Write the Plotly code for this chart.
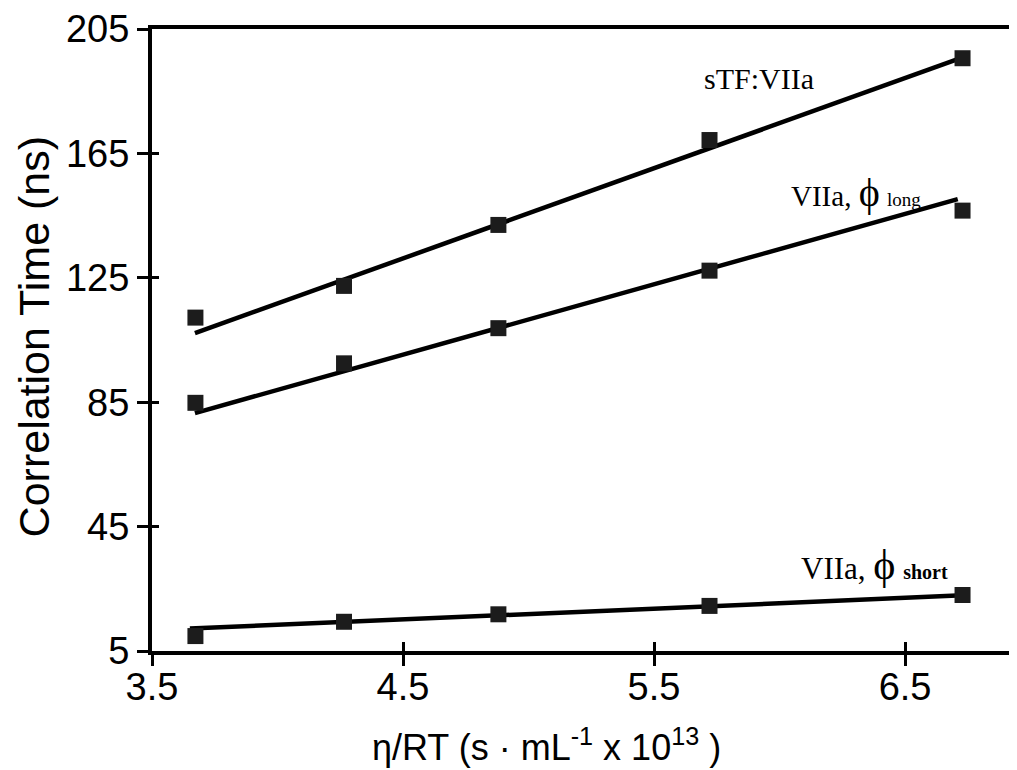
import plotly.graph_objects as go

# ---- data ----
x_vals = [3.673, 4.265, 4.880, 5.721, 6.729]
stf_vals = [112.2, 122.4, 142.0, 169.3, 195.6]
long_vals = [84.8, 97.5, 108.8, 127.3, 146.6]
short_vals = [9.8, 14.4, 16.8, 19.5, 23.0]

stf_fit_x = [3.671, 6.71]
stf_fit_y = [107.2, 195.3]
long_fit_x = [3.671, 6.71]
long_fit_y = [81.5, 150.3]
short_fit_x = [3.651, 6.73]
short_fit_y = [12.2, 22.9]

x_ticks = [3.5, 4.5, 5.5, 6.5]
y_ticks = [5, 45, 85, 125, 165, 205]

labels = ["sTF:VIIa", "VIIa, ϕ long", "VIIa, ϕ short"]

x_range = [3.5, 6.946]
y_range = [5, 205]

fig = go.Figure()

mk = dict(symbol="square", size=16, color="#1c1c1c", line=dict(width=0))
ln = dict(color="black", width=4.5)

for fx, fy in [(stf_fit_x, stf_fit_y), (long_fit_x, long_fit_y), (short_fit_x, short_fit_y)]:
    fig.add_trace(go.Scatter(x=fx, y=fy, mode="lines", line=ln, showlegend=False, hoverinfo="skip"))
for yv in [stf_vals, long_vals, short_vals]:
    fig.add_trace(go.Scatter(x=x_vals, y=yv, mode="markers", marker=mk, showlegend=False))

# invisible trace on overlay axes (for inside tick marks)
fig.add_trace(go.Scatter(x=[x_range[0]], y=[y_range[0]], xaxis="x2", yaxis="y2",
                         mode="markers", marker=dict(opacity=0), showlegend=False, hoverinfo="skip"))

sans = "Liberation Sans, Arial, sans-serif"
serif = "Liberation Serif, Times New Roman, serif"

# page body has an 8px default margin -> figure is sized/margined to compensate
fig.update_layout(
    width=1009, height=762,
    margin=dict(l=144, r=0, t=21, b=119, pad=0),
    plot_bgcolor="white", paper_bgcolor="white",
    xaxis=dict(range=x_range, tickvals=x_ticks, ticktext=[str(v) for v in x_ticks],
               ticks="outside", ticklen=11, tickwidth=3, tickcolor="black",
               showline=True, linewidth=4, linecolor="black", mirror=True,
               showgrid=False, zeroline=False, ticklabelstandoff=-12,
               tickfont=dict(family=sans, size=38, color="black")),
    yaxis=dict(range=y_range, tickvals=y_ticks, ticktext=[str(v) for v in y_ticks],
               ticks="outside", ticklen=11, tickwidth=3, tickcolor="black",
               showline=True, linewidth=4, linecolor="black",
               showgrid=False, zeroline=False, ticklabelstandoff=0,
               tickfont=dict(family=sans, size=38, color="black")),
    xaxis2=dict(range=x_range, overlaying="x", anchor="y2", side="bottom",
                tickvals=x_ticks, ticks="inside", ticklen=9, tickwidth=3, tickcolor="black",
                showticklabels=False, showline=False, showgrid=False, zeroline=False),
    yaxis2=dict(range=y_range, overlaying="y", anchor="x2", side="left",
                tickvals=y_ticks, ticks="inside", ticklen=7, tickwidth=3, tickcolor="black",
                showticklabels=False, showline=False, showgrid=False, zeroline=False),
)

fig.add_annotation(x=5.918, y=189.2, text=labels[0], showarrow=False,
                   xanchor="center", yanchor="middle",
                   font=dict(family=serif, size=30, color="black"))
fig.add_annotation(x=6.305, y=152.3, showarrow=False, xanchor="center", yanchor="middle",
                   text="VIIa, <span style='font-size:40px'>ϕ</span> <span style='font-size:19px'>long</span>",
                   font=dict(family=serif, size=29, color="black"))
fig.add_annotation(x=6.380, y=32.5, showarrow=False, xanchor="center", yanchor="middle",
                   text="VIIa, <span style='font-size:42px'>ϕ</span> <span style='font-size:20px'><b>short</b></span>",
                   font=dict(family=serif, size=31, color="black"))

fig.add_annotation(xref="paper", yref="paper", x=0.4566, y=-0.151, showarrow=False,
                   xanchor="center", yanchor="middle",
                   text="η/RT (s · mL<sup>-1</sup> x 10<sup>13</sup> )",
                   font=dict(family=sans, size=36, color="black"))
fig.add_annotation(xref="paper", yref="paper", x=-0.137, y=0.505, showarrow=False,
                   xanchor="center", yanchor="middle",
                   textangle=-90, text="Correlation Time (ns)",
                   font=dict(family=sans, size=43, color="black"))

fig.write_html("out.html")
